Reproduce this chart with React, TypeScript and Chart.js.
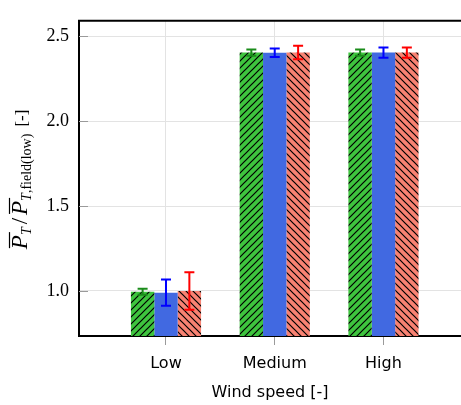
import React, { useEffect, useRef } from 'react';
import { Chart, registerables } from 'chart.js';

Chart.register(...registerables);

const categories = ['Low', 'Medium', 'High'];
const categoryPositions = [1, 2, 3];
const yTickValues = [1.0, 1.5, 2.0, 2.5];

const greenValues = [0.995, 2.405, 2.405];
const greenErrors = [0.018, 0.018, 0.018];
const blueValues = [0.99, 2.404, 2.405];
const blueErrors = [0.077, 0.025, 0.03];
const redValues = [1.0, 2.405, 2.405];
const redErrors = [0.11, 0.04, 0.03];

const xAxisTitle = 'Wind speed [-]';

function makeHatch(ctx: CanvasRenderingContext2D, bg: string, dir: string) {
  const s = 7;
  const c = document.createElement('canvas');
  c.width = s;
  c.height = s;
  const g = c.getContext('2d')!;
  g.fillStyle = bg;
  g.fillRect(0, 0, s, s);
  g.strokeStyle = '#000';
  g.lineWidth = 1.2;
  g.beginPath();
  if (dir === '/') {
    g.moveTo(-1, s + 1); g.lineTo(s + 1, -1);
    g.moveTo(-1, 1); g.lineTo(1, -1);
    g.moveTo(s - 1, s + 1); g.lineTo(s + 1, s - 1);
  } else {
    g.moveTo(-1, -1); g.lineTo(s + 1, s + 1);
    g.moveTo(s - 1, -1); g.lineTo(s + 1, 1);
    g.moveTo(-1, s - 1); g.lineTo(1, s + 1);
  }
  g.stroke();
  return ctx.createPattern(c, 'repeat')!;
}

const errorSets = [
  { errors: greenErrors, color: '#1a8c1a' },
  { errors: blueErrors, color: '#0000ff' },
  { errors: redErrors, color: '#ff0000' },
];

const decorPlugin = {
  id: 'decor',
  beforeDatasetsDraw(chart: any) {
    const { ctx, chartArea: a, scales } = chart;
    const y = scales.y;
    ctx.save();
    ctx.strokeStyle = '#9a9a9a';
    ctx.lineWidth = 1;
    yTickValues.forEach((v) => {
      const py = Math.round(y.getPixelForValue(v)) + 0.5;
      ctx.beginPath();
      ctx.moveTo(a.left, py);
      ctx.lineTo(a.left + 9, py);
      ctx.stroke();
    });
    ctx.restore();
  },
  afterDatasetsDraw(chart: any) {
    const { ctx, scales } = chart;
    const y = scales.y;
    ctx.save();
    ctx.lineWidth = 2;
    errorSets.forEach((es, di) => {
      const meta = chart.getDatasetMeta(di);
      const data = chart.data.datasets[di].data as any[];
      meta.data.forEach((el: any, j: number) => {
        const v = data[j].y;
        const e = es.errors[j];
        const x = el.x;
        const top = y.getPixelForValue(v + e);
        const bot = y.getPixelForValue(v - e);
        ctx.strokeStyle = es.color;
        ctx.beginPath();
        ctx.moveTo(x, top);
        ctx.lineTo(x, bot);
        ctx.moveTo(x - 5, top);
        ctx.lineTo(x + 5, top);
        ctx.moveTo(x - 5, bot);
        ctx.lineTo(x + 5, bot);
        ctx.stroke();
      });
    });
    ctx.restore();
  },
  afterDraw(chart: any) {
    const { ctx, chartArea: a } = chart;
    ctx.save();
    ctx.strokeStyle = '#000';
    ctx.lineWidth = 2;
    ctx.beginPath();
    ctx.moveTo(a.left - 1, a.top);
    ctx.lineTo(a.right, a.top);
    ctx.stroke();

    const serif = '"Liberation Serif", "DejaVu Serif", serif';
    const parts = [
      { t: 'P', f: `italic 23px ${serif}`, dy: 0, over: true, pre: 0 },
      { t: 'T', f: `italic 14px ${serif}`, dy: 4, over: false, pre: 0 },
      { t: '/', f: `23px ${serif}`, dy: 0, over: false, pre: 3 },
      { t: 'P', f: `italic 23px ${serif}`, dy: 0, over: true, pre: 3 },
      { t: 'T', f: `italic 14px ${serif}`, dy: 4, over: false, pre: 0 },
      { t: ',field(low)', f: `14px ${serif}`, dy: 4, over: false, pre: 0 },
      { t: '[-]', f: `17px ${serif}`, dy: 0, over: false, pre: 7 },
    ];
    let total = 0;
    const widths = parts.map((p) => {
      ctx.font = p.f;
      const w = ctx.measureText(p.t).width;
      total += p.pre + w;
      return w;
    });
    const baseX = 27;
    const centerY = (a.top + a.bottom) / 2 + 1;
    ctx.translate(baseX, centerY + total / 2);
    ctx.rotate(-Math.PI / 2);
    ctx.fillStyle = '#000';
    ctx.textBaseline = 'alphabetic';
    ctx.textAlign = 'left';
    let u = 0;
    parts.forEach((p, i) => {
      u += p.pre;
      ctx.font = p.f;
      ctx.fillText(p.t, u, p.dy);
      if (p.over) {
        ctx.lineWidth = 1.2;
        ctx.beginPath();
        ctx.moveTo(u + 1, -17.5);
        ctx.lineTo(u + widths[i] + 3, -17.5);
        ctx.stroke();
      }
      u += widths[i];
    });
    ctx.restore();
  },
};

export default function App() {
  const canvasRef = useRef<HTMLCanvasElement | null>(null);

  useEffect(() => {
    const canvas = canvasRef.current!;
    const ctx = canvas.getContext('2d')!;
    const greenPattern = makeHatch(ctx, '#3ec43e', '/');
    const redPattern = makeHatch(ctx, '#f88272', '\\');

    const toPoints = (vals: number[]) => vals.map((v, i) => ({ x: categoryPositions[i], y: v }));

    const chart = new Chart(ctx, {
      type: 'bar',
      data: {
        datasets: [
          { data: toPoints(greenValues), backgroundColor: greenPattern, borderWidth: 0 },
          { data: toPoints(blueValues), backgroundColor: '#4169e1', borderWidth: 0 },
          { data: toPoints(redValues), backgroundColor: redPattern, borderWidth: 0 },
        ],
      } as any,
      options: {
        animation: false,
        responsive: true,
        maintainAspectRatio: false,
        layout: { padding: { top: 14, left: 0, right: 0, bottom: 0 } },
        plugins: { legend: { display: false }, tooltip: { enabled: false } },
        datasets: { bar: { categoryPercentage: 0.645, barPercentage: 1.0 } },
        scales: {
          x: {
            type: 'linear',
            offset: false,
            min: 0.2,
            max: 3.713,
            afterBuildTicks: (s: any) => {
              s.ticks = categoryPositions.map((v) => ({ value: v }));
            },
            afterFit: (s: any) => {
              s.height = 69;
            },
            ticks: {
              callback: (v: any) => {
                const i = categoryPositions.indexOf(Number(v));
                return i >= 0 ? categories[i] : '';
              },
              font: { family: '"DejaVu Sans", sans-serif', size: 16 },
              color: '#000',
              padding: 9,
              autoSkip: false,
              maxRotation: 0,
            },
            grid: { offset: false, color: '#e3e3e3', tickColor: '#9a9a9a', tickLength: 9, lineWidth: 1 },
            border: { color: '#000', width: 2 },
            title: {
              display: true,
              text: xAxisTitle,
              font: { family: '"DejaVu Sans", sans-serif', size: 16 },
              color: '#000',
              padding: { top: 0, bottom: 3 },
            },
          },
          y: {
            min: 0.7346,
            max: 2.5923,
            afterBuildTicks: (s: any) => {
              s.ticks = yTickValues.map((v) => ({ value: v }));
            },
            afterFit: (s: any) => {
              s.width = 79;
            },
            ticks: {
              callback: (v: any) => Number(v).toFixed(1),
              font: { family: '"Liberation Serif", serif', size: 18 },
              color: '#000',
              padding: 10,
            },
            grid: { color: '#e3e3e3', drawTicks: false, lineWidth: 1 },
            border: { color: '#000', width: 2 },
          },
        },
      } as any,
      plugins: [decorPlugin],
    });

    return () => chart.destroy();
  }, []);

  return (
    <div style={{ position: 'fixed', left: 0, top: 0, width: 461, height: 405, background: '#fff' }}>
      <canvas ref={canvasRef} />
    </div>
  );
}
